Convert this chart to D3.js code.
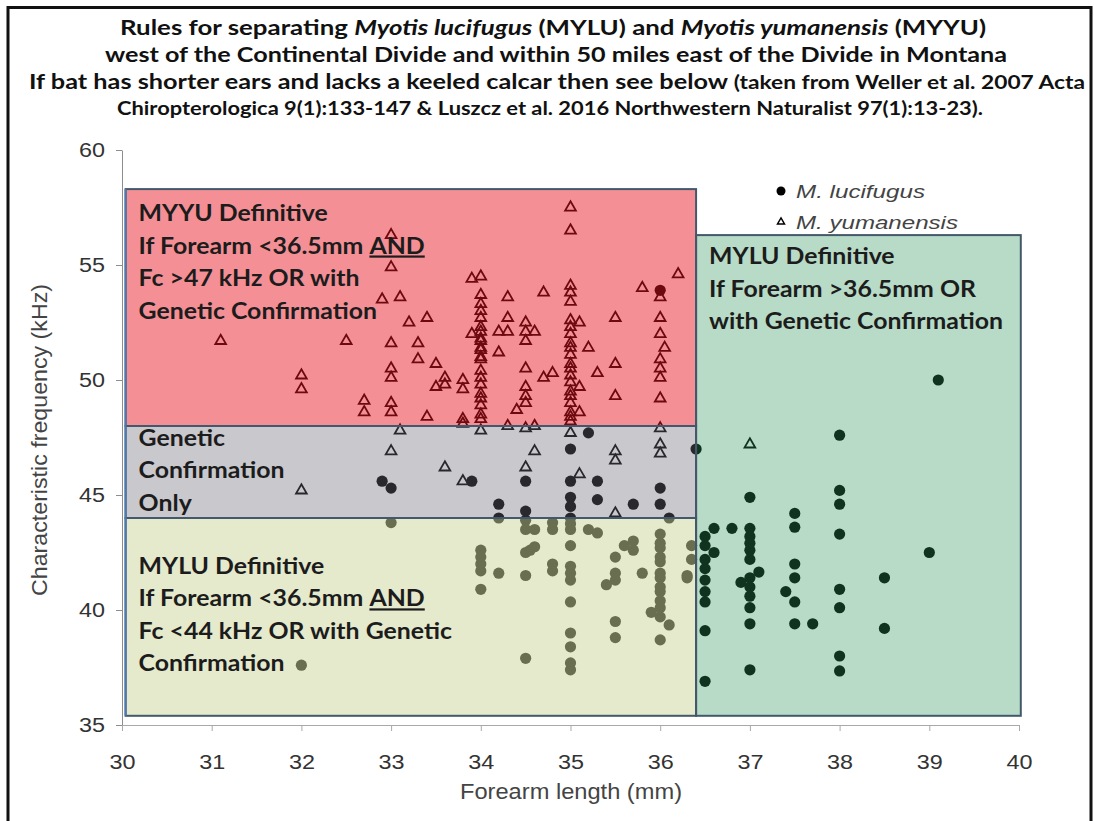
<!DOCTYPE html>
<html>
<head>
<meta charset="utf-8">
<script src="https://d3js.org/d3.v7.min.js"></script>
<style>
  body { margin: 0; background: #fff; }
</style>
</head>
<body>
<div id="chart"></div>
<script>

// forearm (mm), characteristic frequency (kHz)
const lucifugus = [
  [32.0,37.6],[32.9,45.6],[33.0,45.3],[33.0,43.8],
  [33.9,45.6],[34.0,42.6],[34.0,42.3],[34.0,42.0],[34.0,41.7],[34.0,40.9],
  [34.2,44.6],[34.2,44.0],[34.2,41.6],
  [34.5,45.6],[34.5,44.3],[34.5,43.9],[34.5,43.5],[34.5,42.5],[34.5,41.5],[34.5,37.9],
  [34.55,42.6],[34.6,42.75],[34.6,43.5],
  [34.8,43.8],[34.8,43.5],[34.8,42.0],[34.8,41.7],
  [35.0,47.0],[35.0,45.6],[35.0,44.9],[35.0,44.5],[35.0,44.0],[35.0,43.75],[35.0,43.5],
  [35.0,42.8],[35.0,41.9],[35.0,41.6],[35.0,41.3],[35.0,40.35],[35.0,39.0],[35.0,38.4],
  [35.0,37.7],[35.0,37.4],
  [35.2,47.7],[35.2,43.5],[35.3,45.6],[35.3,44.8],[35.3,43.35],
  [35.4,41.1],[35.5,41.3],[35.5,41.6],[35.5,42.3],[35.5,39.5],[35.5,38.8],
  [35.6,42.8],[35.7,43.0],[35.7,42.6],[35.7,44.6],[35.8,41.6],[35.9,39.9],
  [36.0,53.9],[36.0,45.3],[36.0,44.6],[36.0,43.3],[36.0,42.9],[36.0,42.7],[36.0,42.3],
  [36.0,42.1],[36.0,41.6],[36.0,41.4],[36.0,41.0],[36.0,40.8],[36.0,40.4],[36.0,40.1],
  [36.0,39.7],[36.0,38.7],
  [36.1,44.0],[36.1,39.35],[36.3,41.5],[36.3,41.4],[36.35,42.8],[36.35,42.2],
  [36.4,47.0],
  [36.5,43.2],[36.5,42.8],[36.6,42.5],[36.5,42.2],[36.5,41.8],[36.5,41.3],[36.5,40.8],
  [36.5,40.35],[36.5,39.1],[36.5,36.9],[36.6,43.55],[36.8,43.55],
  [37.0,44.9],[37.0,43.55],[37.0,43.2],[37.0,42.9],[37.0,42.6],[37.0,42.2],[37.0,41.4],
  [37.0,41.0],[37.0,40.6],[37.0,40.1],[37.0,39.4],[37.0,37.4],
  [36.9,41.2],[37.1,41.65],
  [37.5,44.2],[37.5,43.6],[37.5,42.0],[37.5,41.4],[37.5,40.35],[37.5,39.4],
  [37.4,40.8],[37.7,39.4],
  [38.0,47.6],[38.0,45.2],[38.0,44.6],[38.0,43.3],[38.0,40.9],[38.0,40.1],[38.0,38.0],
  [38.0,37.35],
  [38.5,41.4],[38.5,39.2],[39.0,42.5],[39.1,50.0]
]

const yumanensis = [
  [31.1,51.7],[32.0,50.2],[32.0,49.6],[32.0,45.2],[32.5,51.7],[32.7,49.1],[32.7,48.6],[32.9,53.5],
  [33.0,56.3],[33.0,54.9],[33.0,51.6],[33.0,50.5],[33.0,50.1],[33.0,49.0],[33.0,48.6],[33.0,46.9],
  [33.1,53.6],[33.1,47.8],
  [33.2,52.5],[33.3,51.6],[33.3,50.9],[33.4,52.7],[33.4,48.4],[33.5,50.7],[33.5,49.7],[33.6,50.1],
  [33.6,49.8],[33.6,46.2],
  [33.8,50.0],[33.8,49.6],[33.8,48.3],[33.8,48.1],[33.8,45.6],[33.9,54.4],[33.9,52.0],
  [34.0,54.5],[34.0,53.7],[34.0,53.3],[34.0,53.0],[34.0,52.7],[34.0,52.3],[34.0,52.1],[34.0,51.8],
  [34.0,51.7],[34.0,51.4],[34.0,51.3],[34.0,51.0],[34.0,50.9],[34.0,50.4],[34.0,50.1],[34.0,49.8],
  [34.0,49.4],[34.0,49.2],[34.0,48.9],[34.0,48.5],[34.0,48.3],[34.0,47.8],
  [34.2,52.1],[34.2,51.2],[34.3,53.6],[34.3,52.7],[34.3,52.1],[34.3,48.0],[34.4,48.7],
  [34.5,52.5],[34.5,52.1],[34.5,51.7],[34.5,50.5],[34.5,49.7],[34.5,49.3],[34.5,49.0],[34.5,47.9],
  [34.5,46.2],
  [34.6,52.1],[34.6,48.0],[34.6,46.9],[34.7,53.8],[34.7,50.1],[34.8,50.3],
  [35.0,57.5],[35.0,56.5],[35.0,54.1],[35.0,53.8],[35.0,53.4],[35.0,52.6],[35.0,52.3],[35.0,52.0],
  [35.0,51.6],[35.0,51.4],[35.0,51.1],[35.0,50.7],[35.0,50.5],[35.0,50.2],[35.0,49.9],[35.0,49.5],
  [35.0,49.3],[35.0,49.0],[35.0,48.6],[35.0,48.4],[35.0,48.2],[35.0,47.7],
  [35.1,52.5],[35.1,49.7],[35.1,48.6],[35.1,45.9],[35.2,51.4],[35.3,50.3],
  [35.5,52.7],[35.5,50.7],[35.5,49.3],[35.5,46.9],[35.5,46.5],[35.5,44.2],[35.8,54.0],
  [36.0,53.6],[36.0,52.7],[36.0,52.0],[36.05,51.4],[36.0,50.9],[36.0,50.5],[36.0,50.1],[36.0,49.2],
  [36.0,47.9],[36.0,47.2],[36.0,46.8],[36.2,54.6],[37.0,47.2]
]

const forearmTicks = [30, 31, 32, 33, 34, 35, 36, 37, 38, 39, 40]
const freqTicks = [35, 40, 45, 50, 55, 60]

// decision zones: forearm range (mm), Fc range (kHz)
const zoneForearm = [[30.04, 36.4], [30.04, 36.4], [30.04, 36.4], [36.4, 40.02]]
const zoneFreq = [[48, 58.3], [44, 48], [35.4, 44], [35.4, 56.3]]
const zoneLabels = [
  ["MYYU Definitive", "If Forearm <36.5mm AND", "Fc >47 kHz OR with", "Genetic Confirmation"],
  ["Genetic", "Confirmation", "Only"],
  ["MYLU Definitive", "If Forearm <36.5mm AND", "Fc <44 kHz OR with Genetic", "Confirmation"],
  ["MYLU Definitive", "If Forearm >36.5mm OR", "with Genetic Confirmation"]
]

// translucent tints laid over the (black) markers, like the original overlay boxes
const zoneFill = ["rgb(231,21,32)", "rgb(107,107,122)", "rgb(204,214,156)", "rgb(44,150,90)"]
const zoneAlpha = [0.475, 0.373, 0.514, 0.34]
const labelTop = [32, 20, 56, 29]

const width = 1094
const height = 821

const svg = d3.select("#chart")
  .append("svg")
    .attr("width", width)
    .attr("height", height)
    .style("font-family", "Lato, sans-serif")

const x = d3.scaleLinear().domain([30, 40]).range([122, 1019])
const y = d3.scaleLinear().domain([35, 60]).range([725, 150])

// outer frame
svg.append("rect")
  .attr("x", 8).attr("y", 7.5)
  .attr("width", 1083).attr("height", 840)
  .attr("fill", "none")
  .attr("stroke", "#111")
  .attr("stroke-width", 3)

// axes (the source picture is a little stretched sideways, hence textLength)
const axisFont = "'Liberation Sans', Arial, sans-serif"
const yAxis = svg.append("g")
  .attr("transform", "translate(122,0)")
  .call(d3.axisLeft(y).tickValues(freqTicks).tickSize(6).tickSizeOuter(0).tickPadding(11))
yAxis.selectAll("text")
  .style("font-family", axisFont).style("font-size", "20px").attr("fill", "#333")
  .attr("textLength", 26).attr("lengthAdjust", "spacingAndGlyphs")
yAxis.selectAll("line,path").attr("stroke", "#8d8d8d")

const xAxis = svg.append("g")
  .attr("transform", "translate(0,725)")
  .call(d3.axisBottom(x).tickValues(forearmTicks).tickSize(6).tickSizeOuter(0).tickPadding(24))
xAxis.selectAll("text")
  .style("font-family", axisFont).style("font-size", "20px").attr("fill", "#333")
  .attr("textLength", 26).attr("lengthAdjust", "spacingAndGlyphs")
xAxis.selectAll("line,path").attr("stroke", "#a9a9a9")

svg.append("text")
  .attr("transform", "translate(47,440) rotate(-90)")
  .attr("text-anchor", "middle")
  .style("font-family", axisFont)
  .style("font-size", "22px")
  .attr("fill", "#444")
  .attr("textLength", 312).attr("lengthAdjust", "spacingAndGlyphs")
  .text("Characteristic frequency (kHz)")

svg.append("text")
  .attr("x", 571).attr("y", 799)
  .attr("text-anchor", "middle")
  .style("font-family", axisFont)
  .style("font-size", "22px")
  .attr("fill", "#444")
  .attr("textLength", 222).attr("lengthAdjust", "spacingAndGlyphs")
  .text("Forearm length (mm)")

// markers (black, tinted by the zones drawn above)
const marks = svg.append("g")
marks.selectAll("circle")
  .data(lucifugus)
  .join("circle")
    .attr("cx", d => x(d[0]))
    .attr("cy", d => y(d[1]))
    .attr("r", 5.6)
    .attr("fill", "#000")

const tri = d3.symbol().type(d3.symbolTriangle).size(50)
marks.selectAll("path")
  .data(yumanensis)
  .join("path")
    .attr("d", tri)
    .attr("transform", d => `translate(${x(d[0])},${y(d[1])})`)
    .attr("fill", "none")
    .attr("stroke", "#000")
    .attr("stroke-width", 1.8)

// zones
const zones = svg.append("g")
zoneForearm.forEach((fx, i) => {
  const fy = zoneFreq[i]
  zones.append("rect")
    .attr("x", x(fx[0])).attr("y", y(fy[1]))
    .attr("width", x(fx[1]) - x(fx[0]))
    .attr("height", y(fy[0]) - y(fy[1]))
    .attr("fill", zoneFill[i])
    .attr("fill-opacity", zoneAlpha[i])
})
zoneForearm.forEach((fx, i) => {
  const fy = zoneFreq[i]
  zones.append("rect")
    .attr("x", x(fx[0])).attr("y", y(fy[1]))
    .attr("width", x(fx[1]) - x(fx[0]))
    .attr("height", y(fy[0]) - y(fy[1]))
    .attr("fill", "none")
    .attr("stroke", "#43586a")
    .attr("stroke-width", 2)
})
// bluish left edge of the left-hand boxes
zones.append("line")
  .attr("x1", x(30.04)).attr("x2", x(30.04))
  .attr("y1", y(58.3)).attr("y2", y(35.4))
  .attr("stroke", "#4b79b4").attr("stroke-width", 2)

// zone labels
zoneLabels.forEach((lines, i) => {
  const x0 = x(zoneForearm[i][0]) + 13
  const t = svg.append("text")
    .attr("x", x0)
    .attr("y", y(zoneFreq[i][1]) + labelTop[i])
    .attr("transform", `translate(${x0},0) scale(1.13,1) translate(${-x0},0)`)
    .style("font-size", "22px")
    .style("font-weight", "bold")
    .attr("fill", "#1c1c1c")
  lines.forEach((s, j) => {
    const dy = j === 0 ? 0 : 32.5
    if (s.endsWith(" AND")) {
      t.append("tspan").attr("x", x0).attr("dy", dy).text(s.slice(0, -3))
      t.append("tspan").style("text-decoration", "underline").text("AND")
    } else {
      t.append("tspan").attr("x", x0).attr("dy", dy).text(s)
    }
  })
})

// legend
const legend = svg.append("g").style("font-family", axisFont).style("font-size", "19px")
legend.append("circle").attr("cx", 781).attr("cy", 191).attr("r", 4.5).attr("fill", "#000")
legend.append("path")
  .attr("d", d3.symbol().type(d3.symbolTriangle).size(22))
  .attr("transform", "translate(781,222)")
  .attr("fill", "none").attr("stroke", "#000").attr("stroke-width", 1.4)
legend.append("text").attr("x", 796).attr("y", 198)
  .style("font-style", "italic").attr("fill", "#444")
  .attr("textLength", 129).attr("lengthAdjust", "spacingAndGlyphs")
  .text("M. lucifugus")
legend.append("text").attr("x", 796).attr("y", 229)
  .style("font-style", "italic").attr("fill", "#444")
  .attr("textLength", 162).attr("lengthAdjust", "spacingAndGlyphs")
  .text("M. yumanensis")

// title
const title = svg.append("g").style("font-weight", "bold").attr("fill", "#111")

const t1 = title.append("text").attr("x", 553).attr("y", 35)
  .attr("text-anchor", "middle").style("font-size", "20px")
  .attr("textLength", 866).attr("lengthAdjust", "spacingAndGlyphs")
t1.append("tspan").text("Rules for separating ")
t1.append("tspan").style("font-style", "italic").text("Myotis lucifugus")
t1.append("tspan").text(" (MYLU) and ")
t1.append("tspan").style("font-style", "italic").text("Myotis yumanensis")
t1.append("tspan").text(" (MYYU)")

title.append("text").attr("x", 556).attr("y", 62)
  .attr("text-anchor", "middle").style("font-size", "20px")
  .attr("textLength", 902).attr("lengthAdjust", "spacingAndGlyphs")
  .text("west of the Continental Divide and within 50 miles east of the Divide in Montana")

const t3 = title.append("text").attr("x", 29).attr("y", 89)
  .style("font-size", "20px")
  .attr("textLength", 1056).attr("lengthAdjust", "spacingAndGlyphs")
t3.append("tspan").text("If bat has shorter ears and lacks a keeled calcar then see below ")
t3.append("tspan").style("font-size", "18px").text("(taken from Weller et al. 2007 Acta")

title.append("text").attr("x", 550).attr("y", 115)
  .attr("text-anchor", "middle").style("font-size", "18px")
  .attr("textLength", 866).attr("lengthAdjust", "spacingAndGlyphs")
  .text("Chiropterologica 9(1):133-147 & Luszcz et al. 2016 Northwestern Naturalist 97(1):13-23).")

</script>
</body>
</html>
